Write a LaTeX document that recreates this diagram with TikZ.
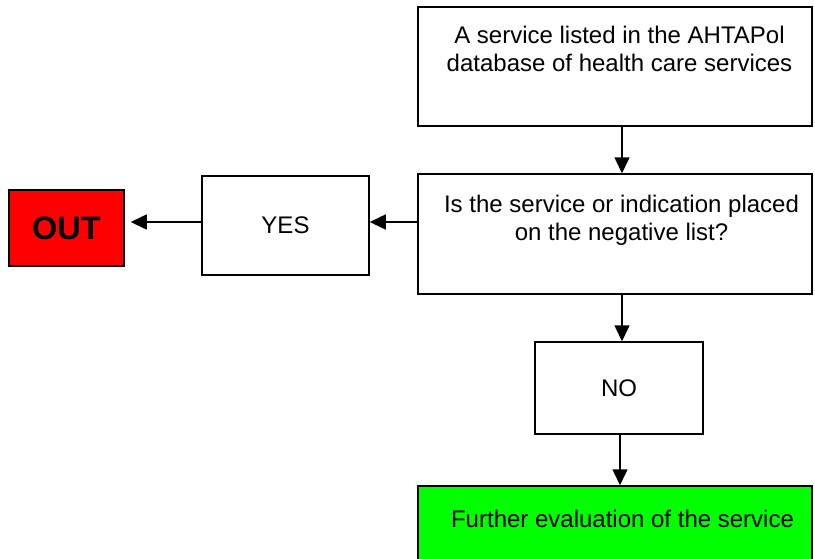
\documentclass[tikz,border=0pt]{standalone}
\usepackage{fontspec}
\setmainfont{Liberation Sans}
\usetikzlibrary{arrows.meta,calc}
\tikzset{
  box/.style={draw=black, line width=1.5pt, rectangle, inner sep=0pt},
  txt/.style={font=\fontsize{24}{28.3}\selectfont, align=center, inner sep=0pt},
  arr/.style={line width=1.5pt, -{Triangle[length=16pt,width=15pt]}},
}
\begin{document}
\begin{tikzpicture}[x=1pt,y=-1pt]
\useasboundingbox (0,0) rectangle (815,558);
\clip (0,0) rectangle (815,558);
\node[box, minimum width=394pt, minimum height=119pt] (b1) at (615,66.5) {};
\node[txt] (t1) at (619.5,49) {A service listed in the AHTAPol\\database of health care services};
\node[box, minimum width=394pt, minimum height=120pt] (b2) at (615,234) {};
\node[txt] (t2) at (621.5,220) {Is the service or indication placed\\on the negative list?};
\node[box, minimum width=167pt, minimum height=99pt, txt] (yes) at (285.5,225.5) {YES};
\node[box, minimum width=115pt, minimum height=76pt, fill=red, font=\fontsize{32.5}{38}\bfseries] (out) at (66.5,228) {OUT};
\node[box, minimum width=168pt, minimum height=92pt, txt] (no) at (619,388) {NO};
\node[box, minimum width=394pt, minimum height=80pt, fill={rgb,255:red,0;green,255;blue,0}] (fe) at (615,526) {};
\node[txt] (t3) at (622.5,519) {Further evaluation of the service};
\coordinate (ax) at (622,0);
\coordinate (ay) at (0,222);
\draw[arr] (b1.south -| ax) -- (b2.north -| ax);
\draw[arr] (b2.west |- ay) -- (yes.east |- ay);
\draw[arr, shorten >=6pt] (yes.west |- ay) -- (out.east |- ay);
\draw[arr] (b2.south -| ax) -- (no.north -| ax);
\draw[arr] ($(no.south)+(1,0)$) -- ($(fe.north)+(5,0)$);
\end{tikzpicture}
\end{document}
